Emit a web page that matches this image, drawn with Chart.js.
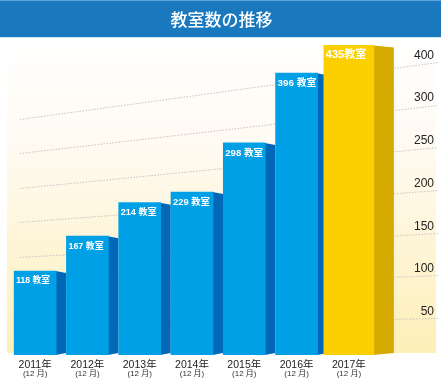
<!DOCTYPE html>
<html><head><meta charset="utf-8">
<script src="https://cdn.jsdelivr.net/npm/chart.js@4.4.1/dist/chart.umd.min.js"></script>
<style>html,body{margin:0;padding:0;background:#fff}#wrap{width:441px;height:378px;position:relative}</style>
</head><body><div id="wrap"><canvas id="c" width="441" height="378"></canvas></div>
<script>
// ---- data ----
const categories = ['2011年', '2012年', '2013年', '2014年', '2015年', '2016年', '2017年'];
const subLabels = ['(12 月)', '(12 月)', '(12 月)', '(12 月)', '(12 月)', '(12 月)', '(12 月)'];
const classrooms = [118, 167, 214, 229, 298, 396, 435];
const valueUnit = '教室';
const tickLabels = ['50', '100', '150', '200', '250', '300', '400'];
const highlightIndex = 6;
const chartTitle = '教室数の推移';

// ---- styles ----
const FONT = "'Liberation Sans', 'Noto Sans CJK JP', sans-serif";
const BLUE = '#00a0e6', BLUE_SIDE = '#0068b7';
const GOLD = '#fcd000', GOLD_SIDE = '#d5aa00';

const blueData = classrooms.map((v, i) => i === highlightIndex ? null : v);
const goldData = classrooms.map((v, i) => i === highlightIndex ? v : null);

const backdrop = {
  id: 'backdrop',
  beforeDraw(chart) {
    const ctx = chart.ctx;
    ctx.save();
    ctx.fillStyle = '#ffffff';
    ctx.fillRect(0, 0, chart.width, chart.height);
    // title bar
    ctx.fillStyle = '#1a78be';
    ctx.fillRect(0, 0, chart.width, 37);
    ctx.fillStyle = '#5ea6da';
    ctx.fillRect(0, 0, chart.width, 1);
    ctx.fillStyle = '#d3e6f4';
    ctx.fillRect(0, 37, chart.width, 1);
    // wall gradient
    const g = ctx.createLinearGradient(0, 40, 0, 353);
    g.addColorStop(0, '#ffffff');
    g.addColorStop(0.35, '#fffaf1');
    g.addColorStop(1, '#fdefb8');
    ctx.fillStyle = g;
    ctx.fillRect(7, 40, 429, 313);
    ctx.restore();
  }
};

const perspective = {
  id: 'perspective',
  beforeDatasetsDraw(chart) {
    const ctx = chart.ctx;
    const s = chart.scales.yR;
    const base = s.getPixelForValue(0);
    ctx.save();
    ctx.strokeStyle = '#c4c4c4';
    ctx.lineWidth = 1;
    ctx.setLineDash([1.5, 1.5]);
    s.ticks.forEach(t => {
      const yR = s.getPixelForValue(t.value);
      const yL = base - (base - yR) * 0.81;
      ctx.beginPath();
      ctx.moveTo(20, Math.round(yL) + 0.5);
      ctx.lineTo(438, Math.round(yR) + 0.5);
      ctx.stroke();
    });
    ctx.setLineDash([]);
    // side faces of bars
    chart.data.datasets.forEach((ds, di) => {
      const meta = chart.getDatasetMeta(di);
      meta.data.forEach((el, i) => {
        if (ds.data[i] == null) return;
        const p = el.getProps(['x', 'y', 'base', 'width'], true);
        const xr = p.x + p.width / 2;
        const d = di === 1 ? 20 : 10;
        ctx.fillStyle = di === 1 ? GOLD_SIDE : BLUE_SIDE;
        ctx.beginPath();
        ctx.moveTo(xr - 0.5, p.y);
        ctx.lineTo(xr + d, p.y + 2);
        ctx.lineTo(xr + d, p.base - 2);
        ctx.lineTo(xr - 0.5, p.base);
        ctx.closePath();
        ctx.fill();
      });
    });
    ctx.restore();
  },
  afterDatasetsDraw(chart) {
    const ctx = chart.ctx;
    ctx.save();
    ctx.fillStyle = '#ffffff';
    ctx.textBaseline = 'middle';
    ctx.textAlign = 'left';
    chart.data.datasets.forEach((ds, di) => {
      const meta = chart.getDatasetMeta(di);
      meta.data.forEach((el, i) => {
        if (ds.data[i] == null) return;
        const p = el.getProps(['x', 'y', 'width'], true);
        const size = di === 1 ? 11 : 8.7 + 0.22 * i;
        ctx.font = 'bold ' + size + 'px ' + FONT;
        const txt = di === 1 ? (ds.data[i] + valueUnit) : (ds.data[i] + ' ' + valueUnit);
        ctx.fillText(txt, p.x - p.width / 2 + 2, p.y + 10);
      });
    });
    ctx.restore();
  }
};

new Chart(document.getElementById('c'), {
  type: 'bar',
  data: {
    labels: categories,
    datasets: [
      { data: blueData, backgroundColor: BLUE, barThickness: 42, grouped: false, borderWidth: 0, yAxisID: 'y', xAxisID: 'x' },
      { data: goldData, backgroundColor: GOLD, barThickness: 50, grouped: false, borderWidth: 0, yAxisID: 'y', xAxisID: 'x' }
    ]
  },
  options: {
    responsive: false,
    animation: false,
    devicePixelRatio: 1,
    layout: { padding: { left: 9, right: 7, top: 0, bottom: 0 } },
    plugins: {
      legend: { display: false },
      tooltip: { enabled: false },
      title: {
        display: true, text: chartTitle, color: '#ffffff',
        font: { family: "'Noto Sans CJK JP', sans-serif", size: 17, weight: '500' },
        padding: { top: 9, bottom: 11 }
      }
    },
    scales: {
      x: {
        type: 'category', offset: true, weight: 0,
        grid: { display: false, drawTicks: false }, border: { display: false },
        ticks: { color: '#222', font: { family: FONT, size: 10.5 }, padding: 4, maxRotation: 0, autoSkip: false },
        afterFit: a => { a.height = 13; }
      },
      x2: {
        type: 'category', labels: subLabels, position: 'bottom', offset: true, weight: 1,
        grid: { display: false, drawTicks: false }, border: { display: false },
        ticks: { color: '#333', font: { family: FONT, size: 8 }, padding: 1, maxRotation: 0, autoSkip: false },
        afterFit: a => { a.height = 10; }
      },
      y: { display: false, min: 0, max: 442 },
      yR: {
        position: 'right', min: 6.7, max: 375.3,
        grid: { display: false, drawTicks: false }, border: { display: false },
        afterBuildTicks: a => { a.ticks = tickLabels.map((_, i) => ({ value: (i + 1) * 50 })); },
        ticks: {
          callback: (v, i) => tickLabels[i],
          color: '#222', font: { family: FONT, size: 12 },
          crossAlign: 'far', labelOffset: -6.5, padding: 0
        },
        afterFit: a => { a.width = 59; }
      }
    }
  },
  plugins: [backdrop, perspective]
});
</script>
</body></html>
